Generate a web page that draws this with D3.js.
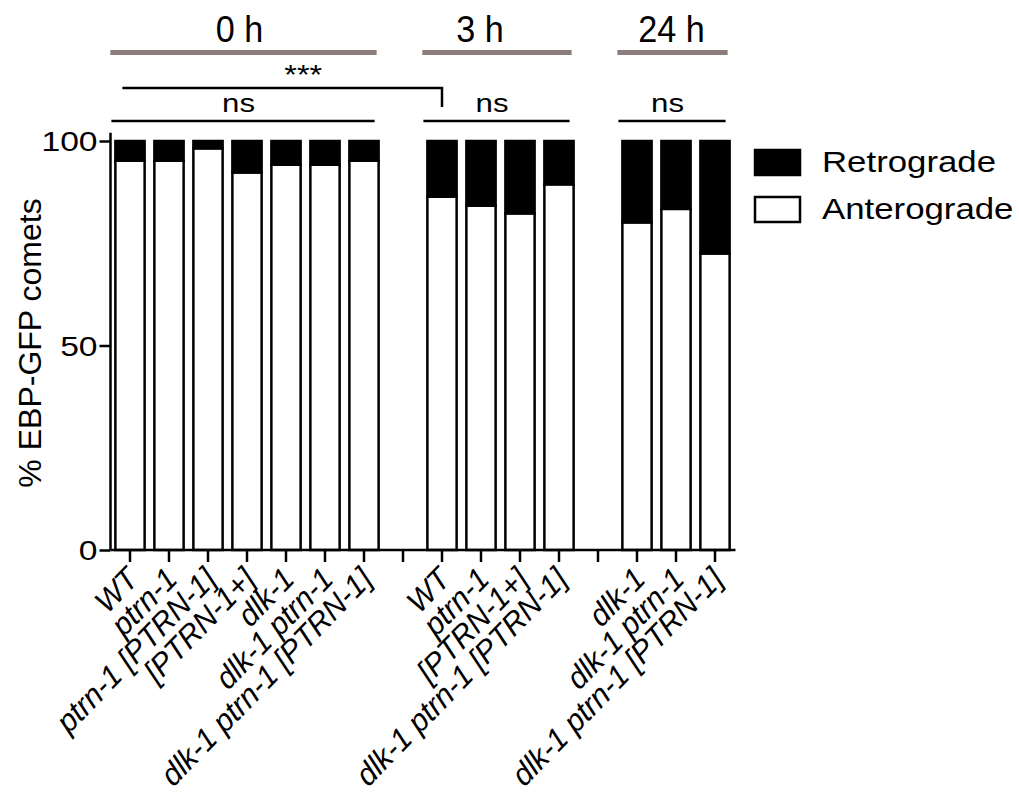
<!DOCTYPE html>
<html>
<head>
<meta charset="utf-8">
<script src="https://cdn.jsdelivr.net/npm/d3@7"></script>
<style>
  body { margin: 0; background: #fff; }
  text { font-family: "Liberation Sans", Arial, sans-serif; fill: #000; }
</style>
</head>
<body>
<div id="viz"></div>
<script>
const width = 1019;
const height = 801;

// groups and bars
const groups = ['0 h', '3 h', '24 h'];
const labels0h = ['WT', 'ptrn-1', 'ptrn-1 [PTRN-1]', '[PTRN-1+]', 'dlk-1', 'dlk-1 ptrn-1', 'dlk-1 ptrn-1 [PTRN-1]'];
const labels3h = ['WT', 'ptrn-1', '[PTRN-1+]', 'dlk-1 ptrn-1 [PTRN-1]'];
const labels24h = ['dlk-1', 'dlk-1 ptrn-1', 'dlk-1 ptrn-1 [PTRN-1]'];
const antero0h = [95.2, 95.2, 98.2, 92.3, 94.2, 94.2, 95.2];
const antero3h = [86.4, 84.2, 82.3, 89.4];
const antero24h = [80.1, 83.4, 72.5];
const retro0h = [4.8, 4.8, 1.8, 7.7, 5.8, 5.8, 4.8];
const retro3h = [13.6, 15.8, 17.7, 10.6];
const retro24h = [19.9, 16.6, 27.5];
const yTicks = [0, 50, 100];
const series = ['Retrograde', 'Anterograde'];
const seriesFill = ['#000', '#fff'];
const groupLineColor = '#8c7c7c';
const sx = 1.2; // text in the picture is a bit wider than plain Arial

// build slots: bars of each group, an empty slot between groups
const groupLabels = [labels0h, labels3h, labels24h];
const groupAntero = [antero0h, antero3h, antero24h];
const groupRetro = [retro0h, retro3h, retro24h];
const rows = [];
const slots = [];
groupLabels.forEach((labs, g) => {
  labs.forEach((l, i) => {
    const key = g + '-' + i;
    slots.push(key);
    rows.push({key: key, group: g, label: l, Anterograde: groupAntero[g][i], Retrograde: groupRetro[g][i]});
  });
  if (g < groupLabels.length - 1) slots.push('gap' + g);
});

const svg = d3.select('#viz')
  .append('svg')
    .attr('width', width)
    .attr('height', height);

const x = d3.scaleBand()
  .domain(slots)
  .range([110.5, 110.5 + 39 * slots.length])
  .paddingInner(0.25)
  .paddingOuter(0.125);

const y = d3.scaleLinear()
  .domain([0, 100])
  .range([550, 141]);

// bars
const stack = d3.stack().keys(['Anterograde', 'Retrograde']);
const stacked = stack(rows);
const bars = svg.append('g');
stacked.forEach(layer => {
  const fill = seriesFill[series.indexOf(layer.key)];
  bars.selectAll(null).data(layer).join('rect')
    .attr('x', d => x(d.data.key))
    .attr('y', d => y(d[1]))
    .attr('width', x.bandwidth())
    .attr('height', d => y(d[0]) - y(d[1]))
    .attr('fill', fill)
    .attr('stroke', '#000')
    .attr('stroke-width', 2.5);
});

// y axis
const yAxis = svg.append('g')
  .attr('transform', 'translate(110.5,0)')
  .call(d3.axisLeft(y).tickValues(yTicks).tickSize(11).tickPadding(4).tickSizeOuter(0));
yAxis.select('.domain').attr('d', `M0,${y(0)}V${y(102)}`);
yAxis.selectAll('line, path').attr('stroke', '#000').attr('stroke-width', 2.5);
yAxis.selectAll('text')
  .style('font-size', '28px')
  .style('font-family', '"Liberation Sans", Arial, sans-serif')
  .attr('fill', '#000')
  .attr('transform', `scale(${sx},1)`)
  .attr('x', -13 / sx)
  .attr('dy', '0.35em');

// x axis
const xAxis = svg.append('g')
  .attr('transform', `translate(0,${y(0)})`)
  .call(d3.axisBottom(x).tickSize(12).tickFormat('').tickSizeOuter(0));
xAxis.select('.domain').attr('d', `M110.5,0H${x.range()[1] + 1}`);
xAxis.selectAll('line, path').attr('stroke', '#000').attr('stroke-width', 2.5);

// rotated italic bar labels (skew stands in for the italic face)
svg.append('g').selectAll('text').data(rows).join('text')
  .attr('transform', d => `translate(${x(d.key) + x.bandwidth() / 2 + 10},581) scale(${sx},1) rotate(-51) skewX(-12)`)
  .attr('text-anchor', 'end')
  .style('font-size', '28px')
  .style('font-style', 'italic')
  .text(d => d.label);

// y label
svg.append('text')
  .attr('transform', 'translate(41,343) rotate(-90)')
  .attr('text-anchor', 'middle')
  .style('font-size', '32px')
  .text('% EBP-GFP comets');

// group headers
const titleShift = [-4, -17, -1];
const groupExtent = g => {
  const keys = rows.filter(r => r.group === g).map(r => r.key);
  return [x(keys[0]) - 5, x(keys[keys.length - 1]) + x.bandwidth() - 2];
};
groups.forEach((name, g) => {
  const [x0, x1] = groupExtent(g);
  svg.append('line')
    .attr('x1', x0).attr('x2', x1)
    .attr('y1', 52.5).attr('y2', 52.5)
    .attr('stroke', groupLineColor)
    .attr('stroke-width', 5);
  svg.append('text')
    .attr('transform', `translate(${(x0 + x1) / 2 + titleShift[g]},42) scale(0.95,1)`)
    .attr('text-anchor', 'middle')
    .style('font-size', '36px')
    .text(name);
  // ns line over each group
  svg.append('line')
    .attr('x1', x0 + 1).attr('x2', x1 - 2)
    .attr('y1', 121).attr('y2', 121)
    .attr('stroke', '#000')
    .attr('stroke-width', 2.5);
  svg.append('text')
    .attr('transform', `translate(${(x0 + x1) / 2 - 5},112) scale(${sx},1)`)
    .attr('text-anchor', 'middle')
    .style('font-size', '26px')
    .text('ns');
});

// *** bracket: 0 h WT vs 3 h WT
const wt0 = x(rows[0].key) + 7;
const wt3 = x(rows.find(r => r.group === 1).key) + x.bandwidth() / 2;
svg.append('path')
  .attr('d', `M${wt0},88H${wt3}V107`)
  .attr('fill', 'none')
  .attr('stroke', '#000')
  .attr('stroke-width', 2.5);
svg.append('text')
  .attr('transform', `translate(${(wt0 + wt3) / 2 + 21},84) scale(${sx},1)`)
  .attr('text-anchor', 'middle')
  .style('font-size', '27px')
  .text('***');

// legend
const legend = svg.append('g').attr('transform', 'translate(755,150)');
series.forEach((s, i) => {
  legend.append('rect')
    .attr('x', 0).attr('y', i * 47)
    .attr('width', 45).attr('height', 25)
    .attr('fill', seriesFill[i])
    .attr('stroke', '#000')
    .attr('stroke-width', 2.5);
  legend.append('text')
    .attr('transform', `translate(67,${i * 47 + 22}) scale(${sx},1)`)
    .style('font-size', '29px')
    .text(s);
});
</script>
</body>
</html>
